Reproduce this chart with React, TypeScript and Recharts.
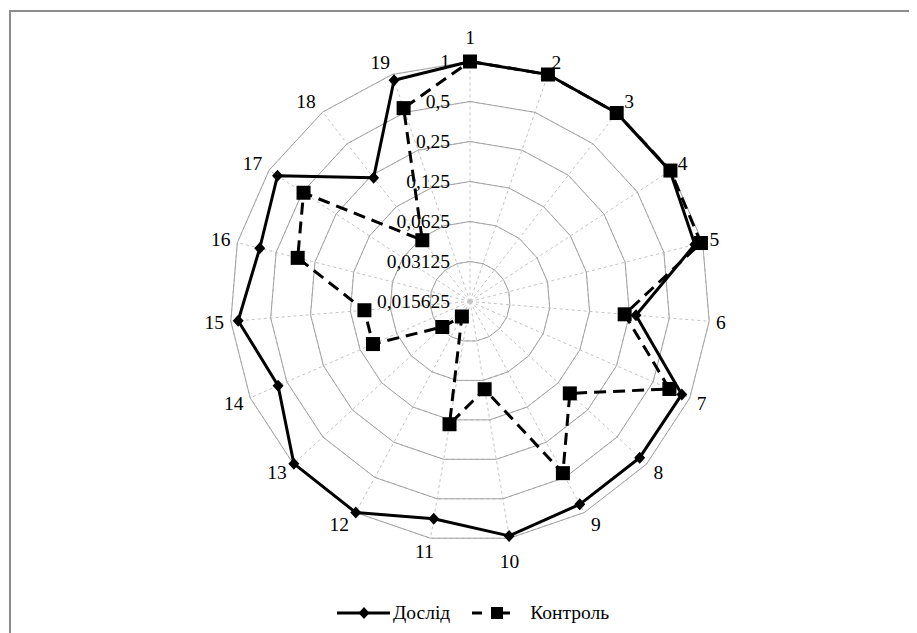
import {
  RadarChart,
  Radar,
  PolarGrid,
  PolarAngleAxis,
  PolarRadiusAxis,
  Legend,
} from "recharts";

const CATEGORIES = [
  "1", "2", "3", "4", "5", "6", "7", "8", "9", "10",
  "11", "12", "13", "14", "15", "16", "17", "18", "19",
];

const DOSLID = [
  1, 1, 0.98, 0.98, 0.87, 0.28, 0.86, 0.85, 0.85, 0.96,
  0.71, 1, 0.99, 0.59, 0.88, 0.67, 0.84, 0.237, 0.9,
];

const KONTROL = [
  1, 1, 0.98, 0.99, 0.97, 0.23, 0.68, 0.164, 0.46, 0.073,
  0.135, 0.021, 0.03, 0.098, 0.098, 0.34, 0.49, 0.06, 0.54,
];

const RADIUS_TICKS = [0.015625, 0.03125, 0.0625, 0.125, 0.25, 0.5, 1];

const CX = 462;
const CY = 293.5;
const R = 240;
const FONT = "'Liberation Serif', 'Times New Roman', serif";

const data = CATEGORIES.map((name, i) => ({
  name,
  doslid: DOSLID[i],
  kontrol: KONTROL[i],
}));

const Diamond = (props: any) => {
  const { cx, cy } = props;
  if (cx == null || cy == null) return <g />;
  return (
    <path
      d={`M${cx},${cy - 6}L${cx + 5.5},${cy}L${cx},${cy + 6}L${cx - 5.5},${cy}Z`}
      fill="#000"
      stroke="none"
    />
  );
};

const Square = (props: any) => {
  const { cx, cy } = props;
  if (cx == null || cy == null) return <g />;
  return <rect x={cx - 7} y={cy - 7} width={14} height={14} fill="#000" stroke="none" />;
};

// category labels sit beside the ring corner, like Excel does it
const AngleTick = (props: any) => {
  const { x, y, payload } = props;
  const dx = x - CX;
  const dy = y - CY;
  const len = Math.sqrt(dx * dx + dy * dy) || 1;
  const ux = dx / len;
  const uy = dy / len;
  const vx = CX + ux * R;
  const vy = CY + uy * R;
  const label = String(payload.value);
  const w = 9.5 * label.length;
  let ox;
  let oy;
  if (ux >= -0.01 && ux < 0.2) {
    ox = 0;
    oy = uy * 24;
  } else {
    ox = Math.sign(ux) * (w / 2 + 7) * Math.min(1, Math.abs(ux) / 0.45);
    oy = uy * 13;
  }
  return (
    <text
      x={vx + ox}
      y={vy + oy}
      textAnchor="middle"
      dominantBaseline="central"
      fill="#000"
      fontSize={19.5}
      fontFamily={FONT}
    >
      {label}
    </text>
  );
};

const RadiusTick = (props: any) => {
  const { x, y, payload } = props;
  return (
    <text
      x={x - 20}
      y={y}
      textAnchor="end"
      dominantBaseline="central"
      fill="#000"
      fontSize={19.5}
      fontFamily={FONT}
    >
      {String(payload.value).replace(".", ",")}
    </text>
  );
};

const LegendContent = () => (
  <div
    style={{
      display: "flex",
      alignItems: "center",
      height: 24,
      fontFamily: FONT,
      fontSize: 19.5,
      color: "#000",
    }}
  >
    <svg width={53} height={16}>
      <line x1={0} y1={8} x2={53} y2={8} stroke="#000" strokeWidth={3} />
      <path d="M27,2L32.5,8L27,14L21.5,8Z" fill="#000" />
    </svg>
    <span style={{ marginLeft: 3 }}>Дослід</span>
    <svg width={38} height={16} style={{ marginLeft: 22 }}>
      <line x1={0} y1={8} x2={10} y2={8} stroke="#000" strokeWidth={3} />
      <rect x={19} y={2} width={12} height={12} fill="#000" />
      <line x1={31} y1={8} x2={38} y2={8} stroke="#000" strokeWidth={3} />
    </svg>
    <span style={{ marginLeft: 20 }}>Контроль</span>
  </div>
);

export default function App() {
  return (
    <div
      style={{
        position: "relative",
        width: 909,
        height: 625,
        overflow: "hidden",
        background: "#fff",
      }}
    >
      <div
        style={{
          position: "absolute",
          left: 1,
          top: 2,
          width: 930,
          height: 700,
          border: "2px solid #8c8c8c",
        }}
      />
      <div style={{ position: "absolute", left: 0, top: 0 }}>
        <RadarChart
          width={900}
          height={620}
          data={data}
          cx={CX}
          cy={CY}
          outerRadius={R}
          margin={{ top: 0, right: 0, bottom: 0, left: 0 }}
        >
          <PolarGrid gridType="polygon" stroke="#c4c4c4" strokeDasharray="3 3" />
          <PolarGrid gridType="polygon" stroke="#a3a3a3" radialLines={false} />
          <PolarAngleAxis
            dataKey="name"
            tick={AngleTick}
            tickLine={false}
            axisLine={false}
          />
          <PolarRadiusAxis
            angle={90}
            type="number"
            scale="log"
            domain={[0.015625, 1]}
            ticks={RADIUS_TICKS as any}
            tick={RadiusTick}
            axisLine={false}
            tickLine={false}
          />
          <Radar
            name="Дослід"
            dataKey="doslid"
            stroke="#000"
            strokeWidth={3}
            fill="none"
            fillOpacity={0}
            strokeLinejoin="round"
            dot={Diamond}
            isAnimationActive={false}
          />
          <Radar
            name="Контроль"
            dataKey="kontrol"
            stroke="#000"
            strokeWidth={3}
            strokeDasharray="12 7"
            fill="none"
            fillOpacity={0}
            strokeLinejoin="round"
            dot={Square}
            isAnimationActive={false}
          />
          <Legend
            content={LegendContent}
            wrapperStyle={{ top: 593, left: 329, width: "auto" }}
          />
        </RadarChart>
      </div>
    </div>
  );
}
